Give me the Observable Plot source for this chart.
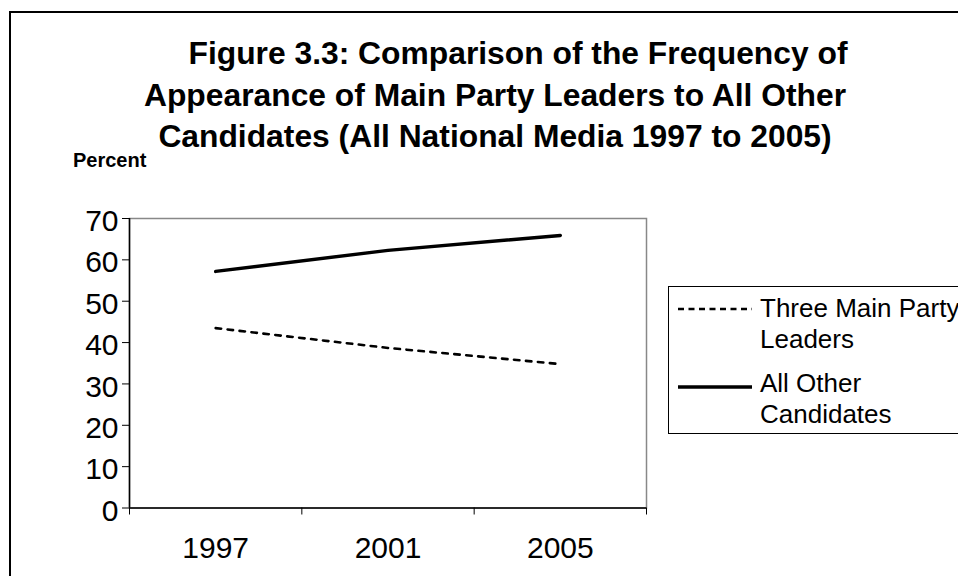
<!DOCTYPE html>
<html><head><meta charset="utf-8">
<script src="https://cdn.jsdelivr.net/npm/d3@7"></script>
<script src="https://cdn.jsdelivr.net/npm/@observablehq/plot@0.6"></script>
<style>
html,body{margin:0;padding:0;background:#fff;overflow:hidden;}
#wrap{position:relative;width:958px;height:576px;font-family:"Liberation Sans",Arial,sans-serif;overflow:hidden;}
#border{position:absolute;left:9px;top:10.5px;width:1000px;height:700px;border-left:2.5px solid #000;border-top:2.5px solid #000;box-sizing:border-box;}
#title{position:absolute;left:0px;width:990px;top:33px;text-align:center;font-weight:bold;font-size:31.8px;line-height:41.5px;white-space:nowrap;}
#title div{position:relative;}
#ylab{position:absolute;left:73px;top:150px;font-weight:bold;font-size:20px;line-height:20px;}
#chart{position:absolute;left:0;top:0;}
#legend{position:absolute;left:668px;top:286px;width:320px;height:148px;border:1px solid #000;box-sizing:border-box;font-size:26px;background:#fff;}
.item{position:absolute;left:9px;}
.item svg{position:absolute;left:0;top:0;}
.item span{position:absolute;left:82px;line-height:29px;white-space:nowrap;}
</style></head>
<body><div id="wrap">
<div id="border"></div>
<div id="chart"></div>
<div id="title"></div>
<div id="ylab"></div>
<div id="legend"></div>
</div>
<script>
const years = ["1997", "2001", "2005"];
const leaders = [43.5, 38.7, 34.8];
const others = [57.2, 62.3, 65.9];
const seriesNames = ["Three Main Party Leaders", "All Other Candidates"];
const yTicks = [0, 10, 20, 30, 40, 50, 60, 70];
const titleLines = ["Figure 3.3: Comparison of the Frequency of", "Appearance of Main Party Leaders to All Other", "Candidates (All National Media 1997 to 2005)"];
const yLabel = "Percent";

const data = [];
years.forEach((y, i) => {
  data.push({series: seriesNames[0], xi: i + 0.5, value: leaders[i]});
  data.push({series: seriesNames[1], xi: i + 0.5, value: others[i]});
});
const bounds = d3.range(years.length + 1);
const centers = years.map((y, i) => i + 0.5);

const chart = Plot.plot({
  width: 958, height: 576,
  marginLeft: 129, marginRight: 312, marginTop: 218, marginBottom: 68.5,
  style: {fontFamily: '"Liberation Sans", Arial, sans-serif', fontSize: "30px", color: "#000", background: "transparent"},
  x: {domain: [0, years.length], axis: null},
  y: {domain: [0, 70], axis: null},
  marks: [
    Plot.frame({stroke: "#888", strokeWidth: 1.5}),
    Plot.axisY({ticks: yTicks, tickSize: 7, tickFormat: () => "", label: null, stroke: "#000"}),
    Plot.axisY({ticks: yTicks, tickSize: 0, tickPadding: 11, label: null, fontSize: 30, dy: 3}),
    Plot.axisX({ticks: bounds, tickSize: 7, tickFormat: () => "", label: null, stroke: "#000"}),
    Plot.axisX({ticks: centers, tickSize: 0, tickPadding: 29, tickFormat: (d) => years[Math.floor(d)], label: null, fontSize: 30}),
    Plot.ruleX([0], {stroke: "#000", strokeWidth: 1.5}),
    Plot.ruleY([0], {stroke: "#000", strokeWidth: 1.5}),
    Plot.line(data.filter(d => d.series === seriesNames[0]), {x: "xi", y: "value", stroke: "#000", strokeWidth: 2.6, strokeDasharray: "5.5,6.5"}),
    Plot.line(data.filter(d => d.series === seriesNames[1]), {x: "xi", y: "value", stroke: "#000", strokeWidth: 3.4})
  ]
});
document.getElementById("chart").appendChild(chart);

document.getElementById("title").innerHTML = titleLines.map((t, i) => `<div style="left:${i === 0 ? 23 : 0}px">${t}</div>`).join("");
document.getElementById("ylab").textContent = yLabel;

const legend = document.getElementById("legend");
const legendItems = [
  {lines: ["Three Main Party", "Leaders"], dash: "6,4.5", w: 2.6, top: 7, lineY: 15},
  {lines: ["All Other", "Candidates"], dash: null, w: 3.4, top: 82, lineY: 18}
];
legendItems.forEach(it => {
  const div = document.createElement("div");
  div.className = "item";
  div.style.top = it.top + "px";
  div.innerHTML = `<svg width="76" height="30"><line x1="0" x2="74" y1="${it.lineY}" y2="${it.lineY}" stroke="#000" stroke-width="${it.w}" ${it.dash ? `stroke-dasharray="${it.dash}"` : ""}/></svg>` +
    it.lines.map((l, k) => `<span style="top:${k * 31}px">${l}</span>`).join("");
  legend.appendChild(div);
});
</script>
</body></html>
